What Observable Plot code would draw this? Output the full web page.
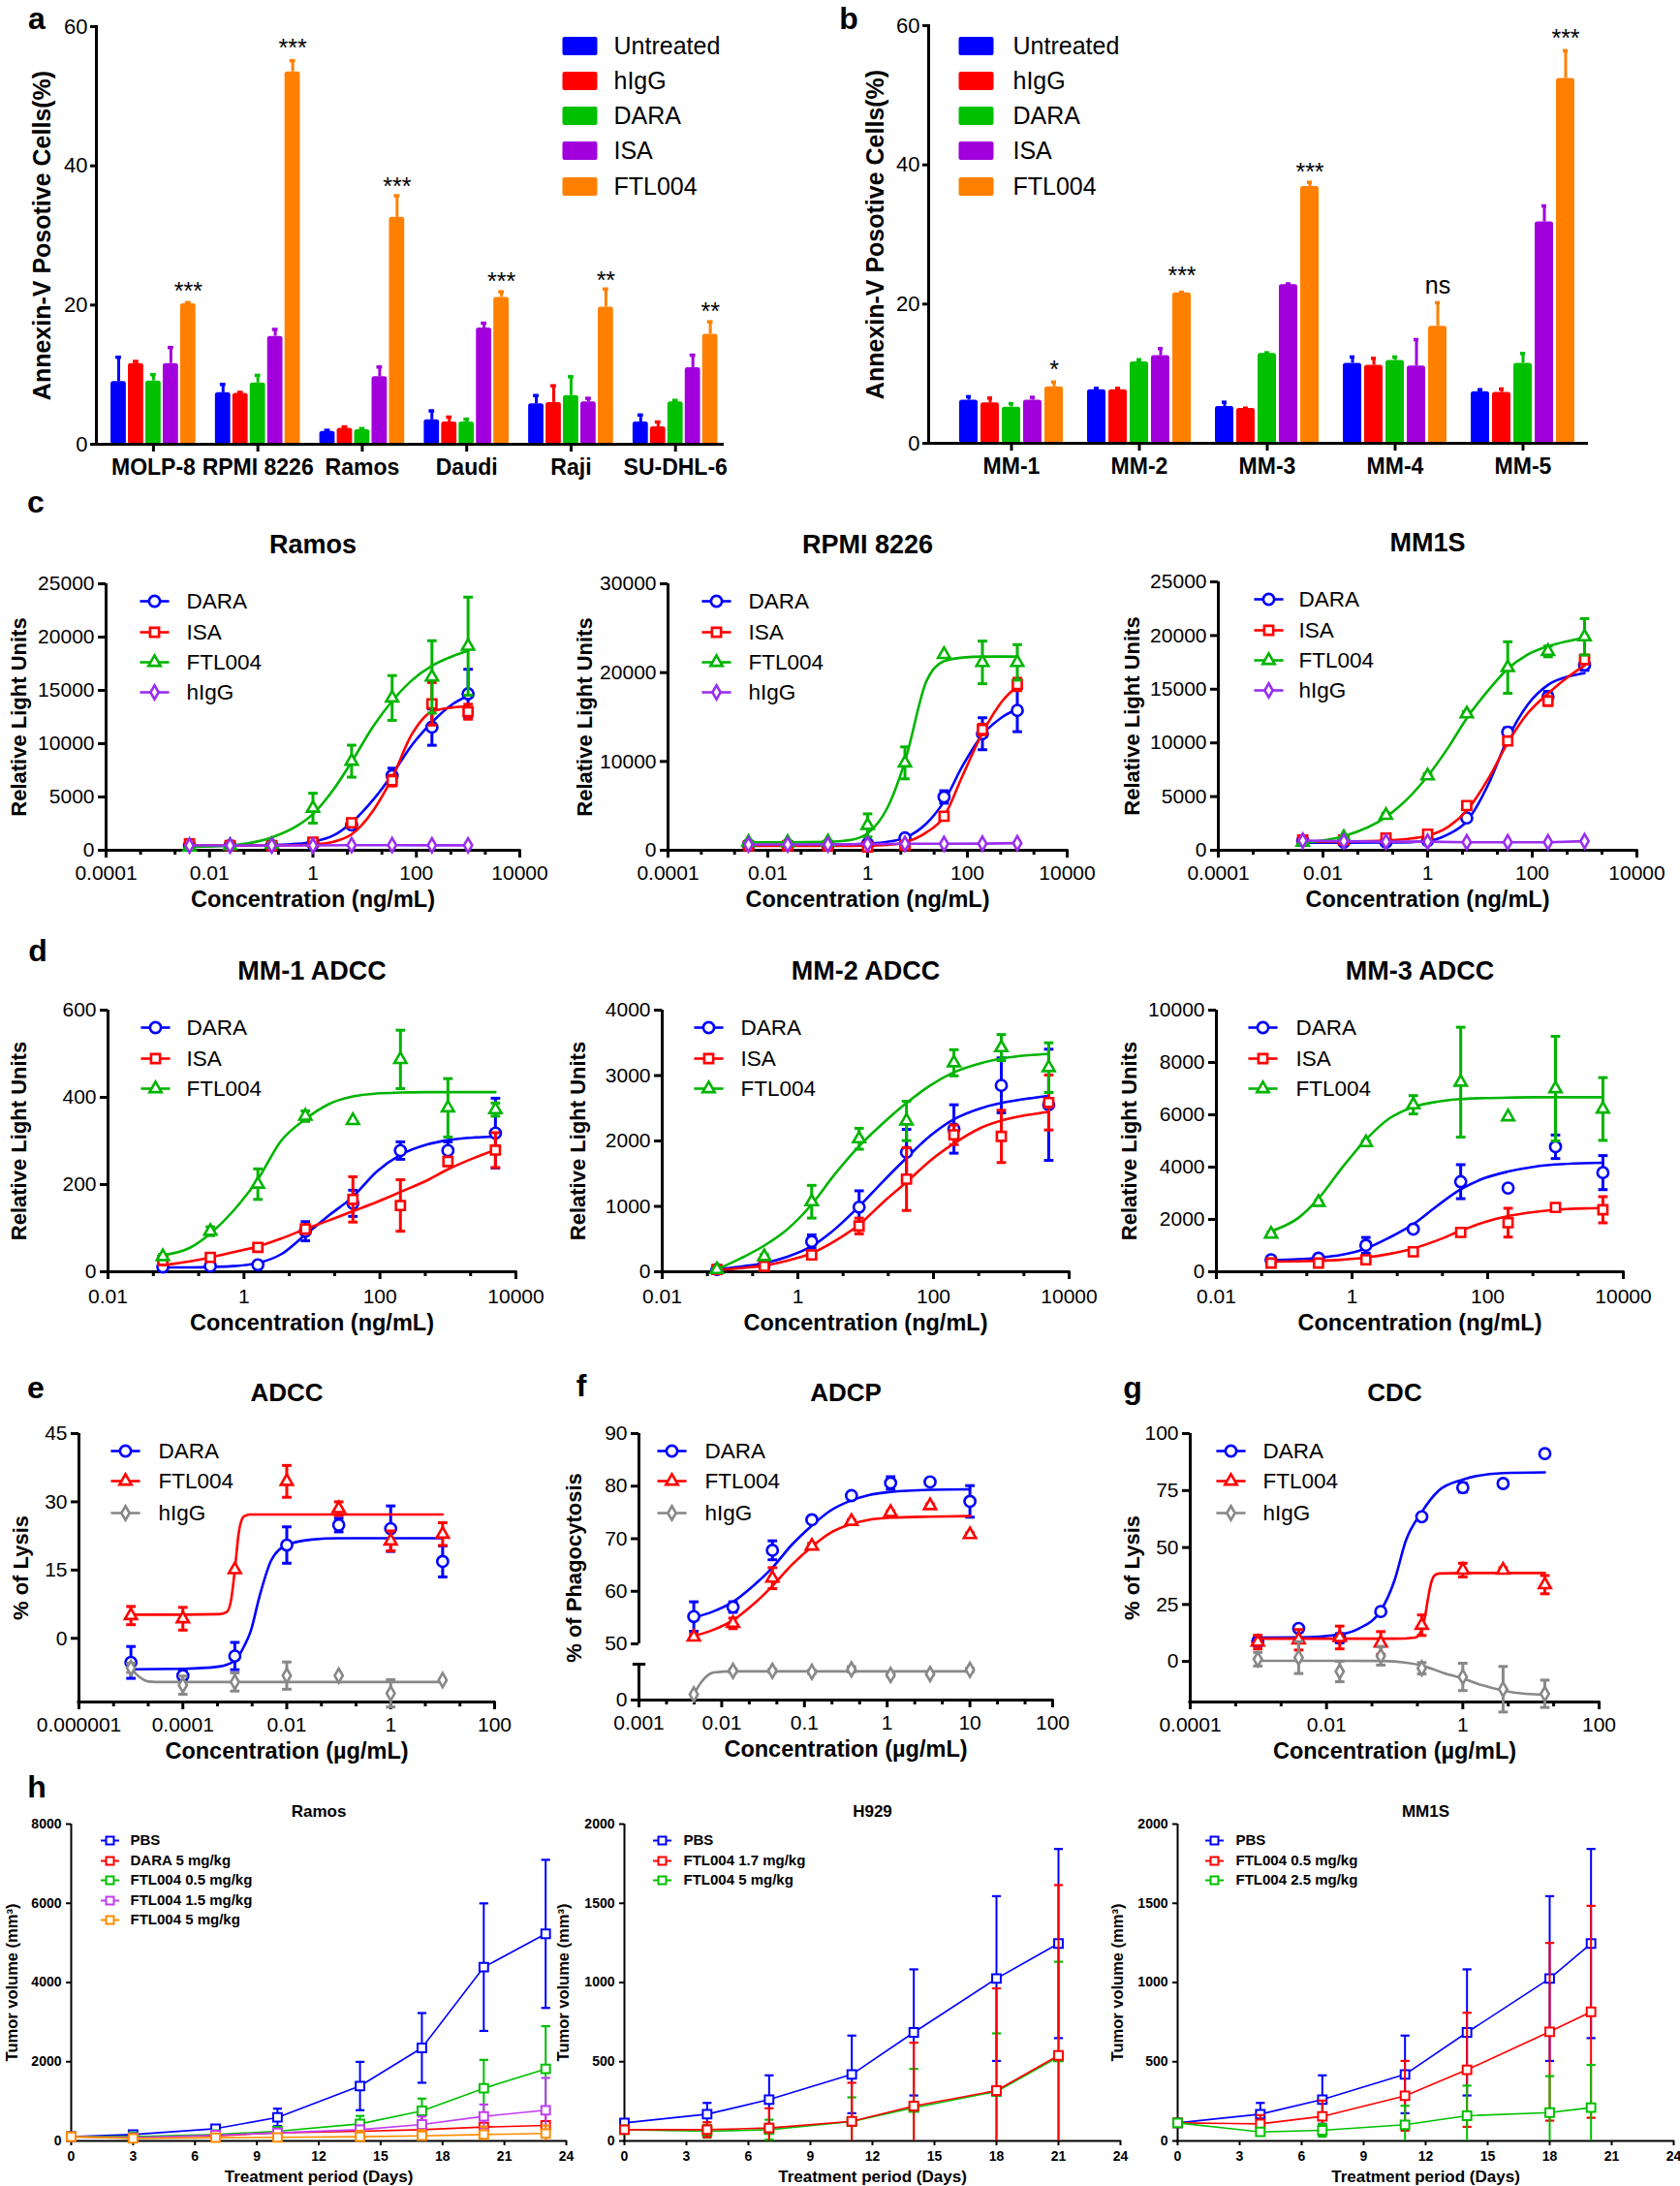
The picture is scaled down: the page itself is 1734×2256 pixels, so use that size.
<!DOCTYPE html>
<html><head><meta charset="utf-8">
<script src="https://cdn.jsdelivr.net/npm/d3@7"></script>
<script src="https://cdn.jsdelivr.net/npm/@observablehq/plot@0.6"></script>
<style>
body{margin:0;background:#fff;}
#root{position:relative;width:1734px;height:2256px;overflow:hidden;background:#fff;font-family:'Liberation Sans',Arial,sans-serif;}
.letter{position:absolute;font-weight:bold;font-size:32px;line-height:1;transform:translate(-50%,-50%);}
</style></head>
<body><div id="root"></div>
<script>
// ================= DATA =================
// ---- panel a ----
const aCells = ["MOLP-8", "RPMI 8226", "Ramos", "Daudi", "Raji", "SU-DHL-6"];
const barGroups = ["Untreated", "hIgG", "DARA", "ISA", "FTL004"];
const barColors = ["#0000ff", "#ff0000", "#00c000", "#a100dc", "#ff8000"];
const aUntreated    = [9.0, 7.4, 1.85, 3.5, 5.8, 3.2];
const aUntreatedErr = [3.5, 1.2, 0.15, 1.3, 1.2, 1.0];
const aHIgG         = [11.6, 7.3, 2.3, 3.2, 6.0, 2.5];
const aHIgGErr      = [0.3, 0.15, 0.2, 0.7, 2.4, 0.7];
const aDARA         = [9.1, 8.8, 2.1, 3.2, 7.0, 6.1];
const aDARAErr      = [0.9, 1.1, 0.15, 0.4, 2.7, 0.2];
const aISA          = [11.6, 15.5, 9.7, 16.7, 6.1, 11.0];
const aISAErr       = [2.3, 1.0, 1.4, 0.7, 0.5, 1.8];
const aFTL004       = [20.2, 53.5, 32.6, 21.1, 19.7, 15.8];
const aFTL004Err    = [0.15, 1.6, 3.1, 0.8, 2.6, 1.8];
const aSig  = ["***", "***", "***", "***", "**", "**"];
const aSigY = [22.7, 57.7, 37.8, 24.2, 24.3, 19.9];
const abYTicks = [0, 20, 40, 60];
// ---- panel b ----
const bDonors = ["MM-1", "MM-2", "MM-3", "MM-4", "MM-5"];
const bUntreated    = [6.2, 7.7, 5.3, 11.5, 7.4];
const bUntreatedErr = [0.5, 0.2, 0.6, 0.9, 0.3];
const bHIgG         = [5.8, 7.7, 5.0, 11.2, 7.3];
const bHIgGErr      = [0.7, 0.2, 0.05, 1.0, 0.5];
const bDARA         = [5.2, 11.7, 12.9, 11.9, 11.5];
const bDARAErr      = [0.5, 0.3, 0.1, 0.5, 1.4];
const bISA          = [6.2, 12.6, 22.8, 11.1, 31.8];
const bISAErr       = [0.4, 1.0, 0.1, 3.8, 2.3];
const bFTL004       = [8.1, 21.6, 36.9, 16.8, 52.4];
const bFTL004Err    = [0.7, 0.1, 0.6, 3.4, 4.0];
const bSig  = ["*", "***", "***", "ns", "***"];
const bSigY = [11.4, 24.8, 39.7, 22.5, 59.0];

// ---- panel c ----
const cConc = [0.0041, 0.025, 0.16, 1, 5.6, 34, 200, 1000];
const cFitConc = [0.0041, 0.025, 0.16, 0.5, 1, 2.5, 5.6, 15, 34, 80, 200, 500, 1000];
const cMajor = [0.0001, 0.01, 1, 100, 10000];
const cMajorLabels = ["0.0001", "0.01", "1", "100", "10000"];
// Ramos
const cRamosDARA = [450, 450, 450, 600, 2370, 7000, 11550, 14680];
const cRamosDARAErr = [100, 100, 100, 100, 200, 700, 1700, 2300];
const cRamosDARAFit = [400, 420, 480, 600, 800, 1400, 2600, 4800, 7100, 9800, 12000, 13700, 14500];
const cRamosISA = [600, 450, 450, 760, 2580, 6530, 13740, 13000];
const cRamosISAErr = [150, 100, 100, 100, 300, 500, 2000, 700];
const cRamosISAFit = [450, 450, 460, 480, 550, 800, 1500, 3800, 6800, 10800, 13000, 13400, 13500];
const cRamosFTL = [300, 450, 550, 3950, 8360, 14290, 16260, 19150];
const cRamosFTLErr = [50, 80, 100, 1400, 1500, 2100, 3400, 4600];
const cRamosFTLFit = [300, 450, 1200, 2300, 3400, 5700, 8300, 11700, 14000, 15900, 17300, 18200, 18700];
const cRamosHIgG = [450, 450, 450, 450, 480, 480, 470, 470];
const cRamosHIgGErr = [0, 0, 0, 0, 0, 0, 0, 0];
// RPMI 8226
const cRpmiDARA = [600, 600, 600, 730, 1390, 6000, 13120, 15750];
const cRpmiDARAErr = [100, 100, 100, 100, 200, 700, 1800, 2400];
const cRpmiDARAFit = [600, 600, 620, 680, 750, 950, 1400, 3000, 5500, 9500, 13000, 15000, 15900];
const cRpmiISA = [500, 500, 500, 360, 550, 3830, 13600, 18670];
const cRpmiISAErr = [100, 100, 100, 100, 150, 400, 600, 700];
const cRpmiISAFit = [500, 500, 500, 510, 520, 600, 900, 2000, 3800, 8400, 13200, 16800, 18500];
const cRpmiFTL = [900, 900, 950, 2800, 9840, 22050, 21150, 21150];
const cRpmiFTLErr = [100, 100, 100, 1300, 1800, 0, 2400, 2000];
const cRpmiFTLFit = [900, 900, 950, 1200, 1900, 4800, 10000, 19000, 21300, 21700, 21800, 21800, 21800];
const cRpmiHIgG = [650, 650, 650, 700, 730, 730, 750, 800];
const cRpmiHIgGErr = [0, 0, 0, 0, 0, 0, 0, 0];
// MM1S
const cMm1sDARA = [900, 750, 750, 900, 3010, 11000, 14300, 17260];
const cMm1sDARAErr = [150, 100, 100, 100, 200, 400, 500, 500];
const cMm1sDARAFit = [700, 700, 720, 760, 850, 1500, 2700, 6300, 10400, 13500, 15400, 16200, 16500];
const cMm1sISA = [960, 960, 1140, 1500, 4160, 10180, 13900, 17770];
const cMm1sISAErr = [150, 150, 150, 150, 200, 300, 400, 400];
const cMm1sISAFit = [800, 820, 900, 1100, 1350, 2200, 3700, 6800, 10000, 12700, 14600, 16200, 17200];
const cMm1sFTL = [750, 1200, 3250, 6930, 12710, 17020, 18520, 19880];
const cMm1sFTLErr = [100, 100, 200, 200, 200, 2400, 500, 1700];
const cMm1sFTLFit = [700, 1300, 3100, 5200, 6900, 9600, 12300, 15000, 16900, 18200, 19000, 19500, 19800];
const cMm1sHIgG = [900, 850, 800, 800, 750, 750, 750, 850];
const cMm1sHIgGErr = [0, 0, 0, 0, 0, 0, 0, 0];

// ---- panel d ----
const dConc = [0.064, 0.32, 1.6, 8, 40, 200, 1000, 5000];
const dFitConc = [0.064, 0.16, 0.32, 0.7, 1.6, 3.5, 8, 18, 40, 90, 200, 500, 1000, 2500, 5000];
const dMajor = [0.01, 1, 100, 10000];
const dMajorLabels = ["0.01", "1", "100", "10000"];
const dMm1DARA = [11, 13, 16, 93, 157, 278, 278, 318];
const dMm1DARAErr = [5, 5, 5, 22, 30, 20, 20, 80];
const dMm1DARAFit = [10, 10, 11, 13, 20, 40, 85, 130, 172, 230, 268, 292, 302, 308, 310];
const dMm1ISA = [26, 33, 56, 98, 166, 152, 253, 279];
const dMm1ISAErr = [5, 5, 8, 10, 52, 59, 10, 40];
const dMm1ISAFit = [15, 24, 33, 45, 58, 76, 98, 118, 139, 160, 183, 210, 235, 262, 280];
const dMm1FTL = [35, 93, 201, 357, 347, 487, 376, 372];
const dMm1FTLErr = [5, 10, 35, 12, 0, 67, 67, 15];
const dMm1FTLFit = [38, 55, 88, 140, 212, 300, 350, 385, 402, 409, 411, 412, 412, 412, 412];
const dMm2DARA = [35, 110, 464, 988, 1827, 2183, 2850, 2553];
const dMm2DARAErr = [15, 30, 100, 250, 350, 370, 420, 850];
const dMm2DARAFit = [35, 85, 133, 230, 390, 650, 1000, 1380, 1740, 2080, 2330, 2500, 2580, 2650, 2690];
const dMm2ISA = [35, 84, 257, 700, 1417, 2094, 2070, 2588];
const dMm2ISAErr = [15, 20, 40, 120, 480, 150, 400, 420];
const dMm2ISAFit = [25, 60, 94, 170, 285, 470, 720, 1060, 1370, 1700, 1960, 2200, 2310, 2400, 2445];
const dMm2FTL = [35, 232, 1071, 2034, 2306, 3195, 3427, 3121];
const dMm2FTLErr = [10, 30, 250, 160, 300, 200, 200, 380];
const dMm2FTLFit = [35, 230, 400, 650, 1030, 1490, 1920, 2270, 2580, 2850, 3050, 3190, 3260, 3310, 3330];
const dMm3DARA = [457, 519, 1012, 1630, 3444, 3200, 4778, 3790];
const dMm3DARAErr = [60, 60, 300, 100, 650, 0, 450, 650];
const dMm3DARAFit = [450, 480, 540, 650, 890, 1300, 1820, 2520, 3150, 3580, 3830, 4020, 4100, 4150, 4165];
const dMm3ISA = [333, 333, 457, 765, 1506, 1877, 2457, 2370];
const dMm3ISAErr = [60, 60, 60, 130, 130, 550, 130, 500];
const dMm3ISAFit = [390, 400, 420, 460, 545, 680, 890, 1200, 1570, 1900, 2130, 2290, 2370, 2420, 2435];
const dMm3FTL = [1444, 2654, 4938, 6383, 7247, 5926, 7000, 6222];
const dMm3FTLErr = [60, 60, 60, 350, 2100, 0, 2000, 1200];
const dMm3FTLFit = [1550, 2050, 2800, 3950, 5050, 5850, 6300, 6500, 6600, 6640, 6660, 6670, 6670, 6670, 6670];

// ---- panel e (ADCC) ----
const eConc = [1e-5, 1e-4, 1e-3, 0.01, 0.1, 1, 10];
const eFitConc = [1e-5, 1e-4, 5e-4, 7e-4, 8.5e-4, 1e-3, 1.2e-3, 1.5e-3, 2e-3, 3e-3, 5e-3, 0.01, 0.03, 0.1, 1, 10];
const eMajor = [1e-6, 1e-4, 0.01, 1, 100];
const eMajorLabels = ["0.000001", "0.0001", "0.01", "1", "100"];
const eDARA = [-5.3, -8.2, -3.9, 20.5, 24.9, 24.1, 16.9];
const eDARAErr = [3.5, 1, 3, 4, 1.5, 5, 3.4];
const eDARAFit = [-6.8, -6.7, -6.2, -5.8, -5.4, -4.8, -3.8, -1.8, 1.4, 9.3, 17.1, 20.5, 21.7, 22.0, 22.0, 22.0];
const eFTL = [5.0, 4.3, 15.1, 34.5, 28.5, 21.4, 22.9];
const eFTLErr = [2, 2.5, 0, 3.5, 1.5, 2.2, 2.5];
const eFTLFit = [5.2, 5.2, 5.3, 5.8, 8.5, 15, 23.5, 26.8, 27.2, 27.2, 27.2, 27.2, 27.2, 27.2, 27.2, 27.2];
const eHIgG = [-6.5, -10.3, -9.6, -8.2, -8.2, -12.1, -9.2];
const eHIgGErr = [1, 2, 2, 3, 0, 3, 0];
const eHIgGFitConc = [1e-5, 1.3e-5, 1.7e-5, 2.2e-5, 3e-5, 1e-4, 10];
const eHIgGFit = [-6.5, -8.0, -9.0, -9.5, -9.6, -9.6, -9.6];

// ---- panel f (ADCP) ----
const fConc = [0.0046, 0.0137, 0.041, 0.123, 0.37, 1.1, 3.3, 10];
const fFitConc = [0.0046, 0.008, 0.0137, 0.024, 0.041, 0.07, 0.123, 0.2, 0.37, 0.6, 1.1, 3.3, 10];
const fMajor = [0.001, 0.01, 0.1, 1, 10, 100];
const fMajorLabels = ["0.001", "0.01", "0.1", "1", "10", "100"];
const fDARA = [55.2, 57.0, 67.8, 73.6, 78.2, 80.6, 80.8, 77.1];
const fDARAErr = [2.8, 1, 1.8, 0.5, 0.5, 1.2, 0.5, 3];
const fDARAFit = [55.0, 56.2, 58.0, 61.0, 64.5, 68.8, 72.5, 75.2, 77.3, 78.3, 78.9, 79.3, 79.4];
const fFTL = [51.3, 53.9, 62.5, 68.6, 73.3, 75.0, 76.3, 70.8];
const fFTLErr = [0.5, 1, 2, 0.5, 0.3, 0.3, 0.3, 0.3];
const fFTLFit = [51.5, 52.7, 54.5, 57.5, 61.0, 65.0, 68.5, 71.0, 72.8, 73.6, 74.0, 74.2, 74.3];
const fHIgG = [1.1, 5.7, 5.7, 5.5, 6.0, 4.9, 5.1, 5.9];
const fHIgGErr = [0, 0.3, 0.3, 0.3, 0.5, 0.3, 0.2, 0.3];
const fHIgGFitConc = [0.0046, 0.0055, 0.0065, 0.008, 0.0137, 10];
const fHIgGFit = [1.1, 3.2, 4.6, 5.4, 5.6, 5.6];

// ---- panel g (CDC) ----
const gConc = [0.00098, 0.0039, 0.0156, 0.0625, 0.25, 1, 3.9, 16];
const gMajor = [0.0001, 0.01, 1, 100];
const gMajorLabels = ["0.0001", "0.01", "1", "100"];
const gDARA = [8.8, 14.5, 10.2, 21.9, 63.5, 76.3, 78.1, 91.2];
const gDARAErr = [2, 1, 2, 1, 1, 2, 1, 1];
const gDARAFitConc = [0.00098, 0.0039, 0.0156, 0.03, 0.0625, 0.1, 0.145, 0.25, 0.44, 1, 3.9, 16];
const gDARAFit = [10.5, 10.6, 11.9, 14.5, 22.3, 35.8, 52.8, 65.6, 74.9, 79.8, 82.7, 83.0];
const gFTL = [8.5, 9.5, 10.5, 8.1, 15.9, 40.1, 40.1, 33.7];
const gFTLErr = [3, 4.5, 5, 5, 4.5, 3, 1, 4];
const gFTLFitConc = [0.00098, 0.1, 0.2, 0.25, 0.28, 0.31, 0.34, 0.38, 0.45, 1, 16];
const gFTLFit = [10, 10, 10.5, 14, 20, 28, 34, 37.6, 38.6, 38.8, 38.8];
const gHIgG = [1.0, 1.7, -4.4, 2.4, -3.0, -6.8, -12.2, -14.2];
const gHIgGErr = [3, 7, 4.5, 4, 2.5, 6, 10, 6];
const gHIgGFitConc = [0.00098, 0.0156, 0.0625, 0.15, 0.25, 0.53, 1, 1.9, 3.9, 8.2, 16];
const gHIgGFit = [0.3, 0.3, 0.2, -0.6, -1.8, -5.1, -7.5, -10.4, -12.8, -14.2, -14.6];

// ---- panel h ----
const hDayTicks = [0, 3, 6, 9, 12, 15, 18, 21, 24];
const hRamosDays = [0, 3, 7, 10, 14, 17, 20, 23];
const hRamosPBS = [106, 163, 310, 595, 1387, 2349, 4388, 5228];
const hRamosPBSErr = [20, 40, 80, 220, 610, 880, 1610, 1870];
const hRamosDARA = [106, 100, 130, 204, 245, 285, 351, 392];
const hRamosDARAErr = [10, 30, 40, 60, 270, 350, 360, 400];
const hRamosFTL05 = [106, 106, 163, 245, 432, 759, 1330, 1819];
const hRamosFTL05Err = [10, 30, 50, 80, 200, 310, 717, 1077];
const hRamosFTL15 = [106, 82, 147, 204, 285, 416, 620, 775];
const hRamosFTL15Err = [10, 20, 40, 60, 100, 200, 300, 816];
const hRamosFTL5 = [106, 65, 82, 90, 106, 130, 163, 188];
const hRamosFTL5Err = [10, 20, 30, 60, 150, 150, 200, 200];
const hH929Days = [0, 4, 7, 11, 14, 18, 21];
const hH929PBS = [114, 169, 261, 420, 685, 1025, 1246];
const hH929PBSErr = [10, 71, 153, 245, 398, 520, 597];
const hH929FTL17 = [71, 71, 82, 124, 220, 318, 540];
const hH929FTL17Err = [10, 47, 124, 243, 400, 645, 1075];
const hH929FTL5 = [71, 61, 71, 122, 210, 312, 530];
const hH929FTL5Err = [10, 40, 63, 153, 245, 367, 601];
const hMm1sDays = [0, 4, 7, 11, 14, 18, 20];
const hMm1sPBS = [114, 169, 261, 420, 685, 1025, 1246];
const hMm1sPBSErr = [10, 71, 153, 245, 398, 520, 597];
const hMm1sFTL05 = [114, 108, 155, 285, 449, 689, 815];
const hMm1sFTL05Err = [10, 55, 100, 220, 360, 561, 669];
const hMm1sFTL25 = [114, 57, 67, 102, 159, 179, 210];
const hMm1sFTL25Err = [10, 20, 40, 120, 190, 230, 270];

// ================= HELPERS =================
const FONT = "'Liberation Sans', Arial, Helvetica, sans-serif";
const BLUE = "#0000ff", RED = "#ff0000", GREEN = "#00b400", PURPLE = "#9a2ef0", GRAY = "#888888";
const root = document.getElementById("root");
const baseStyle = {fontFamily: FONT, background: "transparent", overflow: "visible", maxWidth: "none"};

function mount(svg, fx0, fy0, m) {
  const div = document.createElement("div");
  div.style.position = "absolute";
  div.style.left = (fx0 - m.left) + "px";
  div.style.top = (fy0 - m.top) + "px";
  div.appendChild(svg);
  root.appendChild(div);
}
function letter(ch, x, y) {
  const d = document.createElement("div");
  d.className = "letter"; d.textContent = ch;
  d.style.left = x + "px"; d.style.top = y + "px";
  root.appendChild(d);
}
const capSym = {draw(ctx, size) { const w = Math.sqrt(size) / 2; ctx.moveTo(-w, 0); ctx.lineTo(w, 0); }};
const swatchSym = {draw(ctx) { ctx.moveTo(-16, -7.5); ctx.lineTo(16, -7.5); ctx.lineTo(16, 7.5); ctx.lineTo(-16, 7.5); ctx.closePath(); }};
function minorLog(e0, e1, step) {
  const out = [];
  for (let e = e0; e < e1 - 1e-9; e += step) { out.push(10 ** (e + step / 3)); out.push(10 ** (e + 2 * step / 3)); }
  return out;
}
const T = {lineAnchor: "middle"};

// ---------- bar chart ----------
function barChart(o) {
  const m = {left: 110, right: 20, top: 40, bottom: 60};
  const fw = o.x1 - o.x0, fh = o.y1 - o.y0;
  const keys = [];
  o.cats.forEach((c, ci) => { if (ci > 0) keys.push(c + "|gap"); barGroups.forEach(g => keys.push(c + "|" + g)); });
  const rows = [];
  o.cats.forEach((c, ci) => barGroups.forEach((g, gi) => rows.push({key: c + "|" + g, group: g, v: o.values[gi][ci], top: o.values[gi][ci] + o.errs[gi][ci]})));
  const sig = o.cats.map((c, ci) => ({key: c + "|FTL004", y: o.sigY[ci], s: o.sig[ci]}));
  const marks = [
    Plot.barY(rows, {x: "key", y: "v", fill: "group", rx: 2.5}),
    Plot.ruleX(rows, {x: "key", y1: "v", y2: "top", stroke: "group", strokeWidth: 3}),
    Plot.tickY(rows, {x: "key", y: "top", stroke: "group", strokeWidth: 3.5, insetLeft: o.capInset, insetRight: o.capInset}),
    Plot.text(sig.filter(d => d.s.includes("*")), {...T, x: "key", y: "y", text: "s", dy: 6, fontSize: 25}),
    Plot.text(sig.filter(d => !d.s.includes("*")), {...T, x: "key", y: "y", text: "s", dy: -1, fontSize: 25}),
    Plot.ruleY([0], {strokeWidth: 3}),
    Plot.frame({anchor: "left", strokeWidth: 3}),
    Plot.axisY({ticks: abYTicks, tickFormat: d => String(d), tickSize: 6, tickPadding: 3, fontSize: 22, strokeWidth: 3, label: null}),
    Plot.axisX({ticks: o.cats.map(c => c + "|DARA"), tickFormat: k => k.split("|")[0], tickSize: 8, tickPadding: 7, fontSize: 23, fontWeight: "bold", strokeWidth: 3, label: null}),
    Plot.text([o.yTitle], {...T, frameAnchor: "left", textAnchor: "middle", dx: o.yTitleDx, rotate: -90, text: d => d, fontSize: 25, fontWeight: "bold"})
  ];
  barGroups.forEach((g, gi) => {
    marks.push(Plot.dot([g], {frameAnchor: "top-left", dx: o.legX, dy: o.legDy[gi], symbol: swatchSym, r: 10, fill: barColors[gi], stroke: barColors[gi], strokeWidth: 4, strokeLinejoin: "round"}));
    marks.push(Plot.text([g], {...T, frameAnchor: "top-left", dx: o.legTX, dy: o.legDy[gi], text: d => d, textAnchor: "start", fontSize: 25}));
  });
  const svg = Plot.plot({
    width: m.left + fw + m.right, height: m.top + fh + m.bottom,
    marginLeft: m.left, marginRight: m.right, marginTop: m.top, marginBottom: m.bottom,
    x: {domain: keys, paddingInner: 0.12, paddingOuter: 0.6, align: 0.7},
    y: {domain: [0, 60]},
    color: {domain: barGroups, range: barColors},
    style: baseStyle, marks
  });
  mount(svg, o.x0, o.y0, m);
}

// ---------- dose-response chart ----------
function drChart(o) {
  const m = {left: 125, right: 40, top: 75, bottom: 80};
  const fw = o.x1 - o.x0, fh = o.y1 - o.y0;
  const sw = 2.6, axW = 3;
  const xmin = o.xDomain[0];
  const marks = [];
  marks.push(Plot.ruleX([xmin], {stroke: "black", strokeWidth: axW}));
  if (o.topCap) marks.push(Plot.dot([o.yDomain[1]], {x: () => xmin, y: d => d, symbol: capSym, r: 7.5, stroke: "black", strokeWidth: axW}));
  marks.push(Plot.axisY({ticks: o.yTicks, tickFormat: d => String(d), tickSize: 8, tickPadding: 4, fontSize: 21, strokeWidth: axW, label: null}));
  if (!o.hideX) {
    marks.push(Plot.ruleY([o.yDomain[0]], {stroke: "black", strokeWidth: axW, strokeLinecap: "square"}));
    marks.push(Plot.axisX({ticks: o.major, tickFormat: d => o.majorLabels[o.major.indexOf(d)], tickSize: 8, tickPadding: o.xPad, fontSize: 21, strokeWidth: axW, label: null}));
    marks.push(Plot.axisX({ticks: o.minor, tickFormat: () => "", tickSize: 5, strokeWidth: axW, label: null}));
    marks.push(Plot.text([o.xTitle], {...T, frameAnchor: "bottom", textAnchor: "middle", dy: o.xTitleDy, text: d => d, fontSize: 23.5, fontWeight: "bold"}));
  }
  for (const s of o.series) {
    const pts = s.x.map((x, i) => ({x, y: s.y[i], lo: s.y[i] - s.err[i], hi: s.y[i] + s.err[i], e: s.err[i]}));
    const fit = s.fitX.map((x, i) => ({x, y: s.fitY[i]}));
    const eb = pts.filter(d => d.e > 0);
    marks.push(Plot.line(fit, {x: "x", y: "y", stroke: s.color, strokeWidth: sw, curve: s.linear ? "linear" : "monotone-x"}));
    marks.push(Plot.ruleX(eb, {x: "x", y1: "lo", y2: "hi", stroke: s.color, strokeWidth: 3}));
    marks.push(Plot.dot(eb, {x: "x", y: "hi", symbol: capSym, r: 5.5, stroke: s.color, strokeWidth: 3}));
    marks.push(Plot.dot(eb, {x: "x", y: "lo", symbol: capSym, r: 5.5, stroke: s.color, strokeWidth: 3}));
    marks.push(Plot.dot(pts, {x: "x", y: "y", symbol: s.symbol, r: s.r, stroke: s.color, fill: "white", strokeWidth: sw}));
  }
  const leg = o.legend || (o.hideTop ? [] : o.series);
  leg.forEach((s, i) => {
    const dy = o.legDy[i];
    marks.push(Plot.dot([s.name], {frameAnchor: "top-left", dx: o.legX, dy, symbol: capSym, r: 17, stroke: s.color, strokeWidth: sw}));
    marks.push(Plot.dot([s.name], {frameAnchor: "top-left", dx: o.legX, dy, symbol: s.symbol, r: s.r, stroke: s.color, fill: "white", strokeWidth: sw}));
    marks.push(Plot.text([s.name], {...T, frameAnchor: "top-left", dx: o.legTX, dy, text: d => d, textAnchor: "start", fontSize: 22.5}));
  });
  if (!o.hideTop) {
    marks.push(Plot.text([o.title], {...T, frameAnchor: "top", textAnchor: "middle", dy: o.titleDy, text: d => d, fontSize: o.titleSize || 27, fontWeight: "bold"}));
    marks.push(Plot.text([o.yTitle], {...T, frameAnchor: "left", textAnchor: "middle", dx: o.yTitleDx, dy: o.yTitleDy || 0, rotate: -90, text: d => d, fontSize: 22, fontWeight: "bold"}));
  }
  const xScale = {type: "log", domain: o.xDomain};
  if (o.hideX) xScale.axis = null;
  const svg = Plot.plot({
    width: m.left + fw + m.right, height: m.top + fh + m.bottom,
    marginLeft: m.left, marginRight: m.right, marginTop: m.top, marginBottom: m.bottom,
    x: xScale, y: {domain: o.yDomain},
    style: baseStyle, marks
  });
  mount(svg, o.x0, o.y0, m);
}

// ---------- tumor growth chart ----------
function hChart(o) {
  const m = {left: 95, right: 25, top: 40, bottom: 55};
  const fw = o.x1 - o.x0, fh = o.y1 - o.y0;
  const marks = [];
  marks.push(Plot.ruleY([0], {stroke: "black", strokeWidth: 2, strokeLinecap: "square"}));
  marks.push(Plot.ruleX([0], {stroke: "black", strokeWidth: 2}));
  marks.push(Plot.axisY({ticks: o.yTicks, tickFormat: d => String(d), tickSize: 5, tickPadding: 5, fontSize: 14, fontWeight: "bold", strokeWidth: 2, label: null}));
  marks.push(Plot.axisX({ticks: hDayTicks, tickFormat: d => String(d), tickSize: 5, tickPadding: 6, fontSize: 14, fontWeight: "bold", strokeWidth: 2, label: null}));
  for (const s of o.series) {
    const pts = o.days.map((x, i) => ({x, y: s.y[i], lo: Math.max(0, s.y[i] - s.err[i]), hi: s.y[i] + s.err[i], cl: s.y[i] - s.err[i] > 0}));
    marks.push(Plot.ruleX(pts, {x: "x", y1: "lo", y2: "hi", stroke: s.color, strokeWidth: 2}));
    marks.push(Plot.dot(pts, {x: "x", y: "hi", symbol: capSym, r: 5.2, stroke: s.color, strokeWidth: 2.2}));
    marks.push(Plot.dot(pts.filter(d => d.cl), {x: "x", y: "lo", symbol: capSym, r: 5.2, stroke: s.color, strokeWidth: 2.2}));
    marks.push(Plot.line(pts, {x: "x", y: "y", stroke: s.color, strokeWidth: 1.6}));
    marks.push(Plot.dot(pts, {x: "x", y: "y", symbol: "square", r: 5, stroke: s.color, fill: "white", strokeWidth: 2}));
  }
  (o.legend || o.series).forEach((s, i) => {
    const dy = o.legDy[i];
    marks.push(Plot.dot([s.name], {frameAnchor: "top-left", dx: o.legX, dy, symbol: capSym, r: 10.7, stroke: s.color, strokeWidth: 2}));
    marks.push(Plot.dot([s.name], {frameAnchor: "top-left", dx: o.legX, dy, symbol: "square", r: 4.5, stroke: s.color, fill: "white", strokeWidth: 2}));
    marks.push(Plot.text([s.name], {...T, frameAnchor: "top-left", dx: o.legTX, dy, text: d => d, textAnchor: "start", fontSize: 15, fontWeight: "bold"}));
  });
  marks.push(Plot.text([o.title], {...T, frameAnchor: "top", textAnchor: "middle", dy: -13, text: d => d, fontSize: 17, fontWeight: "bold"}));
  marks.push(Plot.text(["Treatment period (Days)"], {...T, frameAnchor: "bottom", textAnchor: "middle", dy: 37, text: d => d, fontSize: 17, fontWeight: "bold"}));
  marks.push(Plot.text(["Tumor volume (mm³)"], {...T, frameAnchor: "left", textAnchor: "middle", dx: o.yTitleDx, rotate: -90, text: d => d, fontSize: 16.5, fontWeight: "bold"}));
  const svg = Plot.plot({
    width: m.left + fw + m.right, height: m.top + fh + m.bottom,
    marginLeft: m.left, marginRight: m.right, marginTop: m.top, marginBottom: m.bottom,
    x: {domain: [0, 24]}, y: {domain: [0, o.yTicks[o.yTicks.length - 1]]},
    style: baseStyle, marks
  });
  mount(svg, o.x0, o.y0, m);
}

// ================= BUILD =================
barChart({x0: 99, x1: 747, y0: 27, y1: 458, cats: aCells,
  values: [aUntreated, aHIgG, aDARA, aISA, aFTL004], errs: [aUntreatedErr, aHIgGErr, aDARAErr, aISAErr, aFTL004Err],
  sig: aSig, sigY: aSigY, capInset: 5, yTitle: "Annexin-V Posotive Cells(%)", yTitleDx: -56,
  legX: 499, legTX: 534, legDy: [20, 56, 92, 128, 165]});
barChart({x0: 958, x1: 1639, y0: 26, y1: 457, cats: bDonors,
  values: [bUntreated, bHIgG, bDARA, bISA, bFTL004], errs: [bUntreatedErr, bHIgGErr, bDARAErr, bISAErr, bFTL004Err],
  sig: bSig, sigY: bSigY, capInset: 7, yTitle: "Annexin-V Posotive Cells(%)", yTitleDx: -55,
  legX: 49, legTX: 87, legDy: [21, 57, 93, 129, 166]});

const cMinor = minorLog(-4, 4, 2);
const cSer = (D, De, Df, I, Ie, If, F, Fe, Ff, H, He) => [
  {name: "DARA", color: BLUE, symbol: "circle", r: 5.6, x: cConc, y: D, err: De, fitX: cFitConc, fitY: Df},
  {name: "ISA", color: RED, symbol: "square", r: 5.2, x: cConc, y: I, err: Ie, fitX: cFitConc, fitY: If},
  {name: "FTL004", color: GREEN, symbol: "triangle", r: 4.6, x: cConc, y: F, err: Fe, fitX: cFitConc, fitY: Ff},
  {name: "hIgG", color: PURPLE, symbol: "diamond", r: 4.4, x: cConc, y: H, err: He, fitX: cConc, fitY: H, linear: true}
];
const cCommon = {xDomain: [0.0001, 10000], major: cMajor, majorLabels: cMajorLabels, minor: cMinor, xPad: 8,
  legDy: [18, 50, 81, 112], titleDy: -40, xTitle: "Concentration (ng/mL)", xTitleDy: 51, yTitle: "Relative Light Units"};
drChart({...cCommon, x0: 109, x1: 536, y0: 602, y1: 877, yDomain: [0, 25000], yTicks: [0, 5000, 10000, 15000, 20000, 25000],
  title: "Ramos", yTitleDx: -90, legX: 50, legTX: 83,
  series: cSer(cRamosDARA, cRamosDARAErr, cRamosDARAFit, cRamosISA, cRamosISAErr, cRamosISAFit, cRamosFTL, cRamosFTLErr, cRamosFTLFit, cRamosHIgG, cRamosHIgGErr)});
drChart({...cCommon, x0: 689, x1: 1101, y0: 602, y1: 877, yDomain: [0, 30000], yTicks: [0, 10000, 20000, 30000],
  title: "RPMI 8226", yTitleDx: -86, legX: 50, legTX: 83,
  series: cSer(cRpmiDARA, cRpmiDARAErr, cRpmiDARAFit, cRpmiISA, cRpmiISAErr, cRpmiISAFit, cRpmiFTL, cRpmiFTLErr, cRpmiFTLFit, cRpmiHIgG, cRpmiHIgGErr)});
drChart({...cCommon, x0: 1257, x1: 1689, y0: 600, y1: 877, yDomain: [0, 25000], yTicks: [0, 5000, 10000, 15000, 20000, 25000],
  title: "MM1S", yTitleDx: -89, legX: 52, legTX: 83,
  series: cSer(cMm1sDARA, cMm1sDARAErr, cMm1sDARAFit, cMm1sISA, cMm1sISAErr, cMm1sISAFit, cMm1sFTL, cMm1sFTLErr, cMm1sFTLFit, cMm1sHIgG, cMm1sHIgGErr)});

const dMinor = minorLog(-2, 4, 2);
const dSer = (D, De, Df, I, Ie, If, F, Fe, Ff) => [
  {name: "DARA", color: BLUE, symbol: "circle", r: 5.6, x: dConc, y: D, err: De, fitX: dFitConc, fitY: Df},
  {name: "ISA", color: RED, symbol: "square", r: 5.2, x: dConc, y: I, err: Ie, fitX: dFitConc, fitY: If},
  {name: "FTL004", color: GREEN, symbol: "triangle", r: 4.6, x: dConc, y: F, err: Fe, fitX: dFitConc, fitY: Ff}
];
const dCommon = {xDomain: [0.01, 10000], major: dMajor, majorLabels: dMajorLabels, minor: dMinor, xPad: 10,
  legDy: [18, 50, 81], titleDy: -40, xTitle: "Concentration (ng/mL)", xTitleDy: 53, yTitle: "Relative Light Units", y0: 1042, y1: 1312};
drChart({...dCommon, x0: 111, x1: 532, yDomain: [0, 600], yTicks: [0, 200, 400, 600], title: "MM-1 ADCC", yTitleDx: -92, legX: 49, legTX: 81,
  series: dSer(dMm1DARA, dMm1DARAErr, dMm1DARAFit, dMm1ISA, dMm1ISAErr, dMm1ISAFit, dMm1FTL, dMm1FTLErr, dMm1FTLFit)});
drChart({...dCommon, x0: 683, x1: 1103, yDomain: [0, 4000], yTicks: [0, 1000, 2000, 3000, 4000], title: "MM-2 ADCC", yTitleDx: -87, legX: 48, legTX: 81,
  series: dSer(dMm2DARA, dMm2DARAErr, dMm2DARAFit, dMm2ISA, dMm2ISAErr, dMm2ISAFit, dMm2FTL, dMm2FTLErr, dMm2FTLFit)});
drChart({...dCommon, x0: 1255, x1: 1675, yDomain: [0, 10000], yTicks: [0, 2000, 4000, 6000, 8000, 10000], title: "MM-3 ADCC", yTitleDx: -90, legX: 48, legTX: 82,
  series: dSer(dMm3DARA, dMm3DARAErr, dMm3DARAFit, dMm3ISA, dMm3ISAErr, dMm3ISAFit, dMm3FTL, dMm3FTLErr, dMm3FTLFit)});

const efgCommon = {legDy: [18, 49, 82], titleDy: -42, titleSize: 26, xTitle: "Concentration (µg/mL)", xTitleDy: 51, xPad: 8};
drChart({...efgCommon, x0: 81, x1: 510, y0: 1479, y1: 1756, xDomain: [1e-6, 100], major: eMajor, majorLabels: eMajorLabels, minor: minorLog(-6, 2, 2),
  yDomain: [-14, 45], yTicks: [0, 15, 30, 45], title: "ADCC", yTitle: "% of Lysis", yTitleDx: -60, legX: 48, legTX: 82,
  series: [
    {name: "DARA", color: BLUE, symbol: "circle", r: 5.6, x: eConc, y: eDARA, err: eDARAErr, fitX: eFitConc, fitY: eDARAFit},
    {name: "FTL004", color: RED, symbol: "triangle", r: 4.6, x: eConc, y: eFTL, err: eFTLErr, fitX: eFitConc, fitY: eFTLFit},
    {name: "hIgG", color: GRAY, symbol: "diamond", r: 4.4, x: eConc, y: eHIgG, err: eHIgGErr, fitX: eHIgGFitConc, fitY: eHIgGFit}
  ]});
// panel f: broken y axis drawn as an upper (50-90) and a lower (0-7) segment sharing one x scale
const fSeries = [
  {name: "DARA", color: BLUE, symbol: "circle", r: 5.6, x: fConc, y: fDARA, err: fDARAErr, fitX: fFitConc, fitY: fDARAFit},
  {name: "FTL004", color: RED, symbol: "triangle", r: 4.6, x: fConc, y: fFTL, err: fFTLErr, fitX: fFitConc, fitY: fFTLFit},
  {name: "hIgG", color: GRAY, symbol: "diamond", r: 4.4, x: fConc, y: fHIgG, err: fHIgGErr, fitX: fHIgGFitConc, fitY: fHIgGFit}
];
const fCommon = {...efgCommon, x0: 659, x1: 1086, xDomain: [0.001, 100], major: fMajor, majorLabels: fMajorLabels, minor: minorLog(-3, 2, 1)};
drChart({...fCommon, y0: 1479, y1: 1696, yDomain: [50, 90], yTicks: [50, 60, 70, 80, 90], hideX: true,
  title: "ADCP", yTitle: "% of Phagocytosis", yTitleDx: -67, yTitleDy: 30, legX: 34, legTX: 68,
  series: fSeries.slice(0, 2), legend: fSeries});
drChart({...fCommon, y0: 1717, y1: 1754, yDomain: [0, 7], yTicks: [0], hideTop: true, topCap: true,
  series: fSeries.slice(2)});
drChart({...efgCommon, x0: 1228, x1: 1650, y0: 1479, y1: 1756, xDomain: [0.0001, 100], major: gMajor, majorLabels: gMajorLabels, minor: minorLog(-4, 2, 2),
  yDomain: [-17.8, 100], yTicks: [0, 25, 50, 75, 100], title: "CDC", yTitle: "% of Lysis", yTitleDx: -60, legX: 42, legTX: 75,
  series: [
    {name: "DARA", color: BLUE, symbol: "circle", r: 5.6, x: gConc, y: gDARA, err: gDARAErr, fitX: gDARAFitConc, fitY: gDARAFit},
    {name: "FTL004", color: RED, symbol: "triangle", r: 4.6, x: gConc, y: gFTL, err: gFTLErr, fitX: gFTLFitConc, fitY: gFTLFit},
    {name: "hIgG", color: GRAY, symbol: "diamond", r: 4.4, x: gConc, y: gHIgG, err: gHIgGErr, fitX: gHIgGFitConc, fitY: gHIgGFit}
  ]});

const hLegDy = [17, 38, 58, 79, 99];
hChart({x0: 73, x1: 584, y0: 1882, y1: 2209, days: hRamosDays, yTicks: [0, 2000, 4000, 6000, 8000], title: "Ramos", yTitleDx: -61, legX: 40, legTX: 61, legDy: hLegDy,
  series: [
    {name: "PBS", color: BLUE, y: hRamosPBS, err: hRamosPBSErr},
    {name: "DARA 5 mg/kg", color: RED, y: hRamosDARA, err: hRamosDARAErr},
    {name: "FTL004 0.5 mg/kg", color: "#00c000", y: hRamosFTL05, err: hRamosFTL05Err},
    {name: "FTL004 1.5 mg/kg", color: "#c23cf2", y: hRamosFTL15, err: hRamosFTL15Err},
    {name: "FTL004 5 mg/kg", color: "#ff8c00", y: hRamosFTL5, err: hRamosFTL5Err}
  ]});
const h929Series = [
  {name: "PBS", color: BLUE, y: hH929PBS, err: hH929PBSErr},
  {name: "FTL004 1.7 mg/kg", color: RED, y: hH929FTL17, err: hH929FTL17Err},
  {name: "FTL004 5 mg/kg", color: "#00c000", y: hH929FTL5, err: hH929FTL5Err}
];
hChart({x0: 644, x1: 1156, y0: 1882, y1: 2209, days: hH929Days, yTicks: [0, 500, 1000, 1500, 2000], title: "H929", yTitleDx: -63, legX: 39, legTX: 61, legDy: hLegDy,
  series: [h929Series[0], h929Series[2], h929Series[1]], legend: h929Series});
hChart({x0: 1215, x1: 1727, y0: 1882, y1: 2209, days: hMm1sDays, yTicks: [0, 500, 1000, 1500, 2000], title: "MM1S", yTitleDx: -62, legX: 38, legTX: 60, legDy: hLegDy,
  series: [
    {name: "PBS", color: BLUE, y: hMm1sPBS, err: hMm1sPBSErr},
    {name: "FTL004 0.5 mg/kg", color: RED, y: hMm1sFTL05, err: hMm1sFTL05Err},
    {name: "FTL004 2.5 mg/kg", color: "#00c000", y: hMm1sFTL25, err: hMm1sFTL25Err}
  ]});

letter("a", 38, 19); letter("b", 876, 19); letter("c", 37, 518); letter("d", 39, 981);
letter("e", 37, 1432); letter("f", 600, 1430); letter("g", 1169, 1432); letter("h", 38, 1844);
</script></body></html>
